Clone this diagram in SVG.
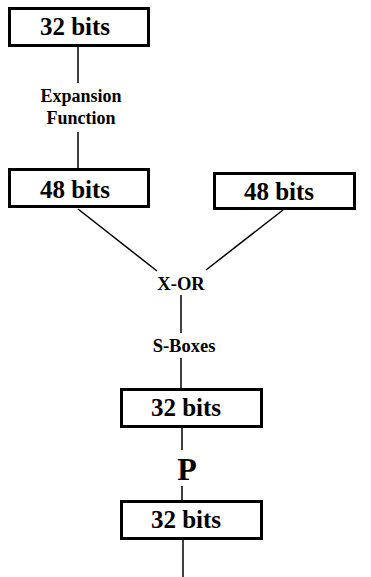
<svg xmlns="http://www.w3.org/2000/svg" width="371" height="577" viewBox="0 0 371 577">
<style>
.box{fill:#fff;stroke:#000;stroke-width:3}
.lbl{font-family:"Liberation Serif","Times New Roman",serif;font-weight:bold;fill:#000;text-anchor:middle}
.big{font-size:25px}
.mid{font-size:18.5px}
.sm{font-size:18px}
.conn line{stroke:#000;stroke-width:1.5}
</style>
<rect width="371" height="577" fill="#fff"/>
<g class="conn">
<line x1="78" y1="46" x2="78" y2="83"/>
<line x1="78" y1="132" x2="78" y2="169"/>
<line x1="78" y1="209" x2="157" y2="271"/>
<line x1="283" y1="210" x2="206" y2="270"/>
<line x1="181" y1="295" x2="181" y2="333"/>
<line x1="181" y1="358" x2="181" y2="389"/>
<line x1="182" y1="427" x2="182" y2="450"/>
<line x1="182" y1="486" x2="182" y2="501"/>
<line x1="183" y1="539" x2="183" y2="577"/>
</g>
<g id="in32">
<rect class="box" x="9.5" y="8.5" width="139" height="37"/>
<text class="lbl big" x="75" y="35">32 bits</text>
</g>
<g id="expansion">
<text class="lbl sm" x="81" y="102">Expansion</text>
<text class="lbl sm" x="81" y="124">Function</text>
</g>
<g id="e48">
<rect class="box" x="9.5" y="169.5" width="139" height="37"/>
<text class="lbl big" x="75" y="198">48 bits</text>
</g>
<g id="k48">
<rect class="box" x="214.5" y="173.5" width="140" height="35"/>
<text class="lbl big" x="279" y="200">48 bits</text>
</g>
<g id="xor">
<text class="lbl mid" x="181" y="290">X-OR</text>
</g>
<g id="sboxes">
<text class="lbl mid" x="184" y="352">S-Boxes</text>
</g>
<g id="s32">
<rect class="box" x="121.5" y="389.5" width="140" height="37"/>
<text class="lbl big" x="186" y="416">32 bits</text>
</g>
<g id="perm">
<text class="lbl" x="187" y="480" style="font-size:32px">P</text>
</g>
<g id="out32">
<rect class="box" x="121.5" y="501.5" width="140" height="37"/>
<text class="lbl big" x="186" y="528">32 bits</text>
</g>
</svg>
